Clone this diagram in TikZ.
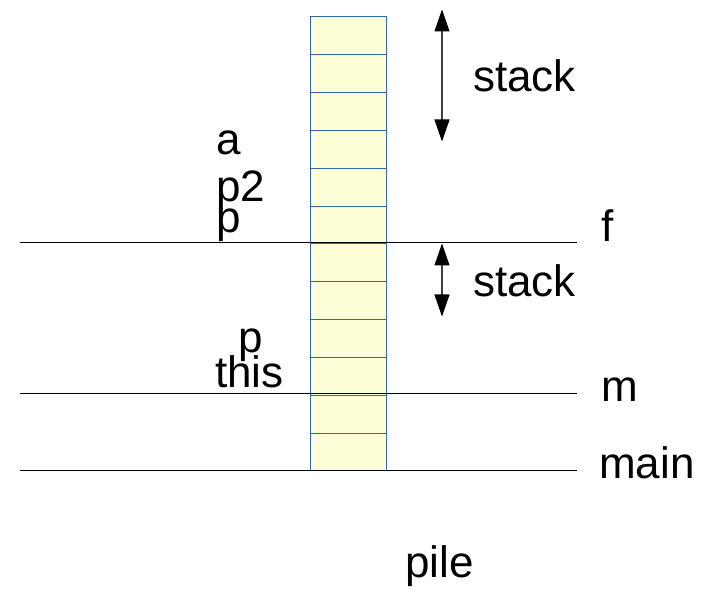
\documentclass[tikz,border=0pt]{standalone}
\usepackage{fontspec}
\setmainfont{Liberation Sans}
\usetikzlibrary{arrows.meta}
\definecolor{cellfill}{HTML}{FFFFD7}
\definecolor{cellline}{HTML}{3465A4}
\tikzset{
  lbl/.style={anchor=base west,inner sep=0pt,font=\fontsize{44}{52}\selectfont},
  cellbox/.style={draw=cellline,fill=cellfill,line width=1pt},
  frameline/.style={draw=black,line width=1pt},
  span/.style={draw=black!75,line width=1.2pt,{Triangle[length=22pt,width=15pt,color=black]}-{Triangle[length=22pt,width=15pt,color=black]}}
}
\begin{document}
\begin{tikzpicture}[x=1pt,y=-1pt]
\useasboundingbox (0,0) rectangle (723,593);
% column of cells
\foreach \i in {0,...,11}{
  \path[cellbox] (310,{17+\i*37.83}) rectangle (386.5,{17+(\i+1)*37.83});
}
% frame lines
\coordinate (fL) at (20,242.5); \coordinate (fR) at (577,242.5);
\coordinate (mL) at (20,394); \coordinate (mR) at (577,394);
\coordinate (mainL) at (20,470); \coordinate (mainR) at (577,470);
\draw[frameline] (fL) -- (fR);
\draw[frameline] (mL) -- (mR);
\draw[frameline] (mainL) -- (mainR);
% arrows
\coordinate (s1t) at (442,9.5); \coordinate (s1b) at (442,141.5);
\coordinate (s2t) at (442,243.5); \coordinate (s2b) at (442,316.5);
\draw[span] (s1t) -- (s1b);
\draw[span] (s2t) -- (s2b);
% labels
\node[lbl] (ta) at (216,155) {a};
\node[lbl] (tp2) at (216,202) {p2};
\node[lbl] (tp) at (216,233) {p};
\node[lbl] (tp3) at (238,353) {p};
\node[lbl] (tthis) at (215,388) {this};
\node[lbl] (tstack1) at (473,92) {stack};
\node[lbl] (tstack2) at (473,297) {stack};
\node[lbl] (tf) at (601,242) {f};
\node[lbl] (tm) at (601,402) {m};
\node[lbl] (tmain) at (599,478) {main};
\node[lbl] (tpile) at (405,577) {pile};
\end{tikzpicture}
\end{document}
